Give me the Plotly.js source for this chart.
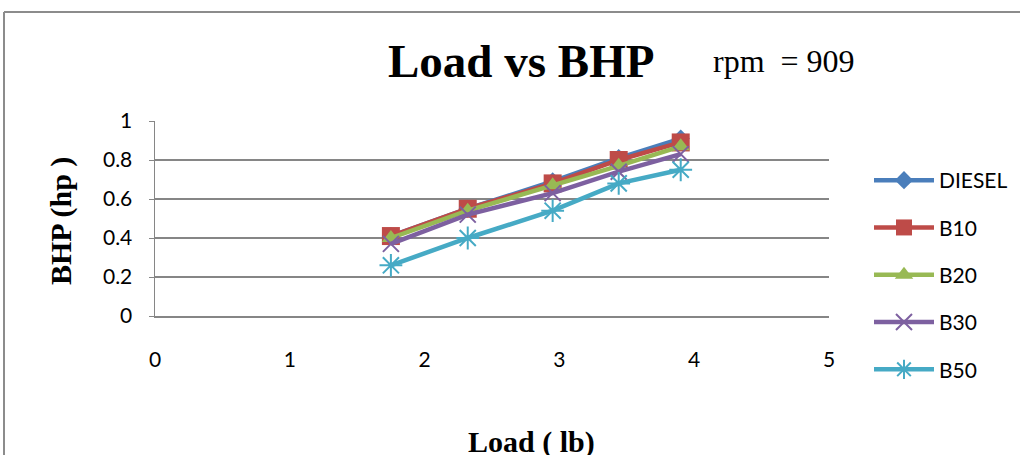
<!DOCTYPE html>
<html>
<head>
<meta charset="utf-8">
<script src="https://cdn.plot.ly/plotly-3.0.1.min.js"></script>
<style>html,body{margin:0;padding:0;background:#fff;}#chart{width:1020px;height:455px;}</style>
</head>
<body>
<div id="chart"></div>
<script>
var load = [1.75, 2.32, 2.95, 3.44, 3.9];
var diesel = [0.41, 0.55, 0.69, 0.81, 0.91];
var b10 = [0.41, 0.55, 0.68, 0.80, 0.89];
var b20 = [0.40, 0.54, 0.67, 0.77, 0.87];
var b30 = [0.37, 0.52, 0.63, 0.74, 0.83];
var b50 = [0.26, 0.40, 0.54, 0.68, 0.75];
var seriesNames = ['DIESEL', 'B10', 'B20', 'B30', 'B50'];
var xTicks = [0, 1, 2, 3, 4, 5];
var yTicks = [0, 0.2, 0.4, 0.6, 0.8, 1];

var colors = ['#4A7EBB', '#BE4B48', '#98B954', '#7D60A0', '#46AAC5'];
var symbols = ['diamond', 'square', 'triangle-up', 'x-thin-open', 'asterisk-open'];
var sizes = [14, 18, 16, 16, 19];
var values = [diesel, b10, b20, b30, b50];

var traces = values.map(function (v, i) {
  return {
    type: 'scatter', mode: 'lines+markers', name: seriesNames[i],
    x: load, y: v, legendgroup: 'g' + i,
    line: {color: colors[i], width: 4.5},
    marker: {symbol: symbols[i], size: sizes[i], color: colors[i],
             line: {color: colors[i], width: (i >= 3 ? 2 : 0)}}
  };
});

var frame = '#8C8C8C';
var layout = {
  width: 1020, height: 455,
  margin: {l: 155, r: 191, t: 121, b: 139},
  paper_bgcolor: '#fff', plot_bgcolor: '#fff',
  showlegend: true,
  title: {
    text: 'Load vs BHP', xref: 'container', yref: 'container',
    x: 0.511, xanchor: 'center', y: 1 - 61 / 455, yanchor: 'middle',
    font: {family: 'Liberation Serif', size: 47, color: '#000', weight: 'bold'}
  },
  xaxis: {
    range: [0, 5], tickvals: xTicks, showgrid: false, zeroline: false,
    showline: true, linecolor: '#868686', linewidth: 2,
    ticks: '', ticklabelstandoff: 24,
    tickfont: {family: 'Lato', size: 21, color: '#000'}
  },
  yaxis: {
    range: [0, 1], tickvals: yTicks, showgrid: true, gridcolor: '#868686', gridwidth: 2,
    zeroline: false, showline: true, linecolor: '#868686', linewidth: 1.5,
    ticks: 'outside', ticklen: 5, tickcolor: '#868686', ticklabelstandoff: 12,
    tickfont: {family: 'Lato', size: 21, color: '#000'}
  },
  legend: {
    xref: 'container', yref: 'container',
    x: 869 / 1020, xanchor: 'left', y: 1 - 160 / 455, yanchor: 'top',
    traceorder: 'grouped', tracegroupgap: 17, itemwidth: 60, maxheight: 400,
    font: {family: 'Lato', size: 21, color: '#000'},
    bgcolor: 'rgba(0,0,0,0)'
  },
  annotations: [
    {text: 'rpm\u00a0\u00a0= 909', xref: 'paper', yref: 'paper', x: (784 - 155) / 674, y: (316 - 61) / 195,
     xanchor: 'center', yanchor: 'middle', showarrow: false,
     font: {family: 'Liberation Serif', size: 32, color: '#000'}},
    {text: '<b>BHP (hp )</b>', xref: 'paper', yref: 'paper', x: (61 - 155) / 674, y: (316 - 221) / 195,
     xanchor: 'center', yanchor: 'middle', showarrow: false, textangle: -90,
     font: {family: 'Liberation Serif', size: 30, color: '#000'}},
    {text: '<b>Load ( lb)</b>', xref: 'paper', yref: 'paper', x: (531 - 155) / 674, y: (316 - 442) / 195,
     xanchor: 'center', yanchor: 'middle', showarrow: false,
     font: {family: 'Liberation Serif', size: 30, color: '#000'}}
  ],
  shapes: [
    {type: 'line', xref: 'paper', yref: 'paper', x0: (4 - 155) / 674, x1: (4 - 155) / 674,
     y0: (316 - 12) / 195, y1: (316 - 470) / 195, line: {color: frame, width: 2}},
    {type: 'line', xref: 'paper', yref: 'paper', x0: (4 - 155) / 674, x1: (1030 - 155) / 674,
     y0: (316 - 12) / 195, y1: (316 - 12) / 195, line: {color: frame, width: 2}}
  ]
};

Plotly.newPlot('chart', traces, layout, {displayModeBar: false, staticPlot: true});
</script>
</body>
</html>
